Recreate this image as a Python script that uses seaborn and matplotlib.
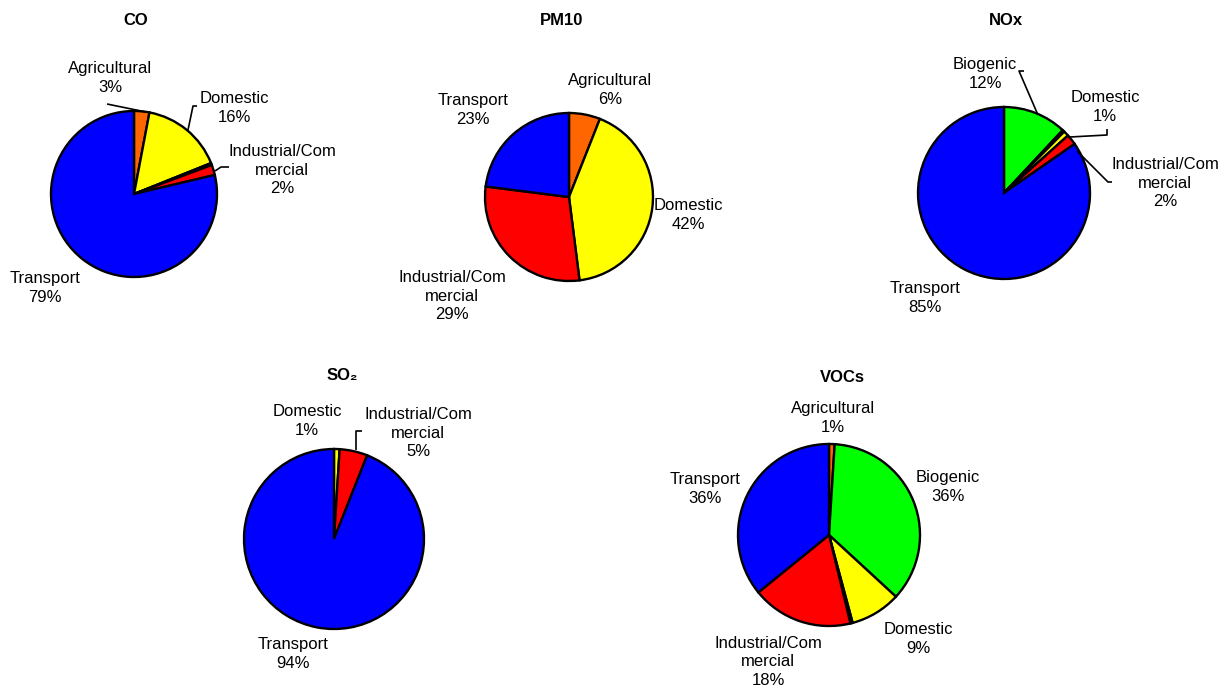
import matplotlib
matplotlib.use("Agg")
import matplotlib.pyplot as plt
import seaborn as sns

# ---------------- data (percent shares, clockwise from 12 o'clock) ----------------
co_labels = ["Agricultural", "Domestic", "", "Industrial/Com\nmercial", "Transport"]
co_values = [3, 16, 0.4, 2, 79]
co_colors = ["#FF6600", "#FFFF00", "#C8C8E8", "#FF0000", "#0000FF"]

pm10_labels = ["Agricultural", "Domestic", "Industrial/Com\nmercial", "Transport"]
pm10_values = [6, 42, 29, 23]
pm10_colors = ["#FF6600", "#FFFF00", "#FF0000", "#0000FF"]

nox_labels = ["Biogenic", "", "Domestic", "Industrial/Com\nmercial", "Transport"]
nox_values = [12, 0.4, 1, 2, 85]
nox_colors = ["#00FF00", "#9999CC", "#FFFF00", "#FF0000", "#0000FF"]

so2_labels = ["Domestic", "Industrial/Com\nmercial", "Transport"]
so2_values = [1, 5, 94]
so2_colors = ["#FFFF00", "#FF0000", "#0000FF"]

voc_labels = ["Agricultural", "Biogenic", "Domestic", "", "Industrial/Com\nmercial", "Transport"]
voc_values = [1, 36, 9, 0.4, 18, 36]
voc_colors = ["#FF6600", "#00FF00", "#FFFF00", "#C8C8E8", "#FF0000", "#0000FF"]

titles = ["CO", "PM10", "NOx", "SO\u2082", "VOCs"]

# ---------------- layout (pixel positions) ----------------
W, H = 1229, 691
layout = {
    "CO": dict(center=(134, 194), r=83, title=(136, 20),
               labels=[(110, 78), (234, 108), None, (282, 170), (45, 288)],
               leaders=[[(107, 104), (146, 112)],
                        [(197, 106), (193, 106), (188, 130)],
                        [(229, 167), (221, 167), (215, 171)]]),
    "PM10": dict(center=(569, 197), r=84, title=(562, 20),
                 labels=[(610, 90), (688, 215), (452, 296), (473, 110)],
                 leaders=[]),
    "NOx": dict(center=(1004, 193), r=86, title=(1006, 20),
                labels=[(985, 74), None, (1105, 107), (1165, 183), (925, 298)],
                leaders=[[(1024, 71), (1019, 71), (1038, 115)],
                         [(1107, 129), (1107, 135), (1070, 137)],
                         [(1112, 182), (1108, 182), (1077, 151)]]),
    "SO\u2082": dict(center=(334, 539), r=90, title=(342, 375),
                     labels=[(307, 421), (418, 433), (293, 654)],
                     leaders=[[(362, 431), (356, 431), (356, 450)]]),
    "VOCs": dict(center=(829, 535), r=91, title=(842, 377),
                 labels=[(833, 418), (948, 487), (918, 639), None, (768, 662), (705, 489)],
                 leaders=[]),
}

datasets = [
    (co_labels, co_values, co_colors),
    (pm10_labels, pm10_values, pm10_colors),
    (nox_labels, nox_values, nox_colors),
    (so2_labels, so2_values, so2_colors),
    (voc_labels, voc_values, voc_colors),
]

# ---------------- drawing ----------------
sns.set_theme(style="white")
plt.rcParams["font.family"] = ["Liberation Sans", "DejaVu Sans"]

fig = plt.figure(figsize=(W / 100, H / 100), dpi=100)
fig.patch.set_facecolor("white")
ax = fig.add_axes([0, 0, 1, 1])

for title, (labels, values, colors) in zip(titles, datasets):
    lay = layout[title]
    cx, cy = lay["center"]
    ax.pie(values, colors=colors, startangle=90, counterclock=False,
           center=(cx, H - cy), radius=lay["r"], frame=True,
           wedgeprops=dict(edgecolor="black", linewidth=1.7))
    total = sum(values)
    tx, ty = lay["title"]
    ax.text(tx, H - ty, title, ha="center", va="center", fontsize=12,
            fontweight="bold", color="black")
    for lab, val, pos in zip(labels, values, lay["labels"]):
        if not lab or pos is None:
            continue
        pct = round(val / total * 100)
        ax.text(pos[0], H - pos[1], f"{lab}\n{pct}%", ha="center", va="center",
                multialignment="center", fontsize=12, color="black",
                linespacing=1.32)
    for seg in lay["leaders"]:
        xs = [p[0] for p in seg]
        ys = [H - p[1] for p in seg]
        ax.plot(xs, ys, color="black", linewidth=1.2, solid_capstyle="butt")

ax.set_xlim(0, W)
ax.set_ylim(0, H)
ax.set_aspect("equal")
ax.axis("off")

fig.savefig("out.png", dpi=100, facecolor="white")
